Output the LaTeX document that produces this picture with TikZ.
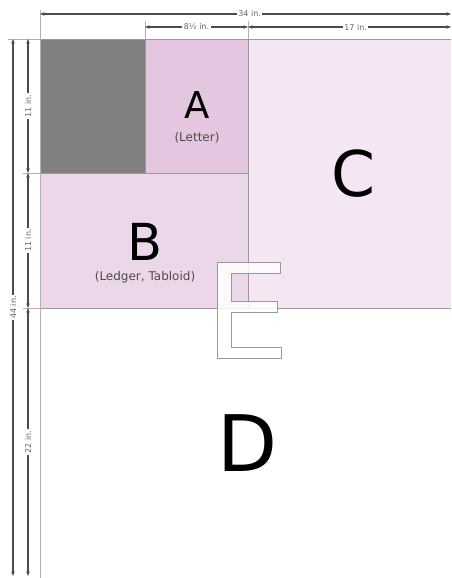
\documentclass[tikz,border=0pt]{standalone}
\usepackage{fontspec}
\setmainfont{DejaVu Sans}
\usetikzlibrary{arrows.meta,positioning,calc}
\definecolor{sheetA}{HTML}{E4C6E0}
\definecolor{sheetB}{HTML}{ECD7EA}
\definecolor{sheetC}{HTML}{F4E6F2}
\definecolor{sheetgrey}{HTML}{808080}
\tikzset{
  dimline/.style={<->,black!70,line width=1.1pt},
  dimlab/.style={fill=white,inner sep=1.5pt,text=black!60,font=\fontsize{8}{9}\selectfont},
  sheetedge/.style={draw=black!40,line width=0.7pt},
  extline/.style={black!30,line width=0.7pt},
  bigletter/.style={inner sep=0pt,font=\fontsize{#1}{#1}\selectfont},
  sublab/.style={inner sep=0pt,text=black!70,font=\fontsize{12}{13}\selectfont}
}

\begin{document}
\begin{tikzpicture}[x=1pt,y=-1pt,>={Stealth[length=4.5pt,width=3.5pt]}]
  \useasboundingbox (0,0) rectangle (451,578);
  % sheets, smallest on top
  \fill[sheetC] (248,39) rectangle (451,308);
  \fill[sheetB] (40,173) rectangle (248,308);
  \fill[sheetA] (145,39) rectangle (248,173);
  \fill[sheetgrey] (40,39) rectangle (145,173);
  \draw[sheetedge] (40,39) -- (451,39) (40,173) -- (248,173) (40,308) -- (451,308)
    (145,39) -- (145,173) (248,39) -- (248,308);
  % extension lines
  \draw[extline] (40,10) -- (40,578) (145,21) -- (145,39) (248,21) -- (248,39)
    (8,39) -- (40,39) (23,173) -- (40,173) (23,308) -- (40,308);

  % end points of the dimensions
  \coordinate (wL) at (40,14);   \coordinate (wR) at (451,14);
  \coordinate (aL) at (145,27);  \coordinate (aR) at (248,27);
  \coordinate (cR) at (451,27);
  \coordinate (hT) at (13,39);   \coordinate (hB) at (13,576);
  \foreach \nm/\y in {y0/39,y1/173,y2/308,y3/576}
    \coordinate (\nm) at (28,\y);

  \draw[dimline] (wL) -- (wR) node[pos=0.51,dimlab] {34 in.};
  \draw[dimline] (aL) -- (aR) node[midway,dimlab] {8½ in.};
  \draw[dimline] (aR) -- (cR) node[pos=0.53,dimlab] {17 in.};
  \draw[dimline] (hT) -- (hB) node[midway,dimlab,rotate=90] {44 in.};
  \foreach \a/\b/\lab in {y0/y1/11, y1/y2/11, y2/y3/22}
    \draw[dimline] (\a) -- (\b) node[midway,dimlab,rotate=90] {\lab\ in.};

  % sheet letters
  \node[bigletter=37] (letA) at (197,105.5) {A};
  \node[sublab] (subA) at (197,138) {(Letter)};
  \node[bigletter=51] (letB) at (145,241.5) {B};
  \node[sublab] (subB) at (145,277) {(Ledger, Tabloid)};
  \node[bigletter=63] (letC) at (353,174) {C};
  \node[bigletter=78] (letD) at (248,443.5) {D};

  % outlined E
  \filldraw[fill=white,fill opacity=0.85,draw=black!40,line width=0.7pt]
    (217,262) -- (280,262) -- (280,273) -- (231,273) -- (231,301) -- (277,301)
    -- (277,312) -- (231,312) -- (231,347) -- (281,347) -- (281,358) -- (217,358) -- cycle;
\end{tikzpicture}
\end{document}
